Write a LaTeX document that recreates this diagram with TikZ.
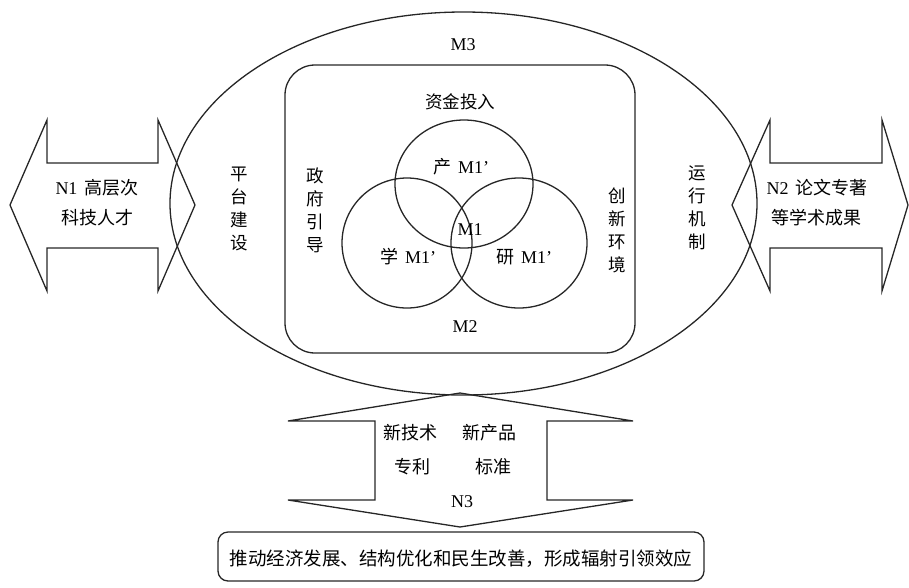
\documentclass[tikz,border=0pt]{standalone}
\usepackage{fontspec}
\setmainfont{Liberation Serif}
\newfontfamily\cjk{Noto Sans CJK SC}
\tikzset{
  shp/.style={draw=black!85, line width=1.3pt, line join=miter},
  lbl/.style={inner sep=0pt, font=\fontsize{18}{21}\selectfont},
  vlbl/.style={inner sep=0pt, align=center, font=\cjk\fontsize{17.5}{23}\selectfont},
}
\newcommand{\gapx}{\hspace{7pt}}
\begin{document}
\begin{tikzpicture}[x=1pt,y=-1pt]
\useasboundingbox (0,0) rectangle (909,587);
% outer ellipse M3
\draw[shp] (463.5,203.5) ellipse [x radius=293.5pt, y radius=191.5pt];
% inner rounded rectangle M2
\draw[shp, rounded corners=30pt] (285,65) rectangle (635,353);
% Venn circles
\draw[shp] (464,184) ellipse [x radius=69pt, y radius=64pt];
\draw[shp] (407,243) ellipse [x radius=65pt, y radius=65pt];
\draw[shp] (519,243) ellipse [x radius=68pt, y radius=65pt];
% left double arrow N1
\draw[shp] (10,205) -- (47,120) -- (47,163) -- (158,163) -- (158,120) -- (195,205)
  -- (158,291) -- (158,248) -- (47,248) -- (47,291) -- cycle;
% right double arrow N2
\draw[shp] (732,205) -- (770,120) -- (770,163) -- (882,163) -- (882,120) -- (908,205)
  -- (882,291) -- (882,248) -- (770,248) -- (770,291) -- cycle;
% bottom double arrow N3
\draw[shp] (460,393) -- (633,421) -- (547,421) -- (547,500) -- (633,500) -- (460,527)
  -- (288,500) -- (375,500) -- (375,421) -- (288,421) -- cycle;
% bottom box
\draw[shp, rounded corners=10pt] (218,532) rectangle (704,581);

% labels
\node[lbl] (m3) at (463,45) {M3};
\node[lbl] (zj) at (460,102) {\cjk\fontsize{17.5}{21}\selectfont 资金投入};
\node[lbl] (chan) at (461,167) {{\cjk 产}\gapx M1’};
\node[lbl] (m1) at (470,230) {M1};
\node[lbl] (xue) at (408,257) {{\cjk 学}\gapx M1’};
\node[lbl] (yan) at (524,257) {{\cjk 研}\gapx M1’};
\node[lbl] (m2) at (465,327) {M2};
\node[vlbl] (zf) at (315,210) {政\\府\\引\\导};
\node[vlbl] (cx) at (617,230) {创\\新\\环\\境};
\node[vlbl] (pt) at (239,209) {平\\台\\建\\设};
\node[vlbl] (yx) at (697,208) {运\\行\\机\\制};
\node[lbl] (n1a) at (97,188) {N1\gapx{\cjk 高层次}};
\node[lbl] (n1b) at (97,218) {\cjk 科技人才};
\node[lbl] (n2a) at (817,188) {N2\gapx{\cjk 论文专著}};
\node[lbl] (n2b) at (816,218) {\cjk 等学术成果};
\node[lbl] (xjs) at (410,433) {\cjk 新技术};
\node[lbl] (xcp) at (489,433) {\cjk 新产品};
\node[lbl] (zl) at (412,467) {\cjk 专利};
\node[lbl] (bz) at (493,467) {\cjk 标准};
\node[lbl] (n3) at (462,502) {N3};
\node[lbl] (bot) at (461,559) {\cjk\fontsize{18.5}{22}\selectfont 推动经济发展、结构优化和民生改善，形成辐射引领效应};
\end{tikzpicture}
\end{document}
